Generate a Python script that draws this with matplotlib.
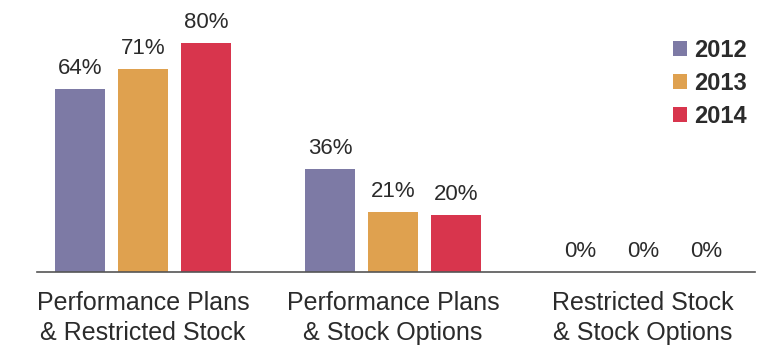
import numpy as np
import matplotlib.pyplot as plt

plt.rcParams['font.family'] = ['Liberation Sans', 'DejaVu Sans']

# --- Data ---
categories = ["Performance Plans\n& Restricted Stock",
              "Performance Plans\n& Stock Options",
              "Restricted Stock\n& Stock Options"]
years = ["2012", "2013", "2014"]
values_2012 = [64, 36, 0]
values_2013 = [71, 21, 0]
values_2014 = [80, 20, 0]
colors = ["#7d7aa5", "#dfa14f", "#d8354d"]

series = [values_2012, values_2013, values_2014]

# --- Figure ---
fig = plt.figure(figsize=(7.63, 3.52), dpi=100)
ax = fig.add_axes([37 / 763, 80 / 352, 718 / 763, 272 / 352])

x = np.arange(len(categories))
offset = 0.252
width = 0.2

for i, (vals, year, col) in enumerate(zip(series, years, colors)):
    pos = x + (i - 1) * offset
    bars = ax.bar(pos, vals, width=width, color=col, label=year)
    for b, v in zip(bars, vals):
        ax.annotate(f"{v}%", (b.get_x() + b.get_width() / 2, v),
                    xytext=(0, 7), textcoords="offset points",
                    ha="center", va="bottom", fontsize=16, color="#2b2b2b")

ax.set_xlim(-0.424, 2.448)
ax.set_ylim(0, 95)
ax.set_xticks(x)
ax.set_xticklabels(categories, fontsize=18, color="#2b2b2b", linespacing=1.3)
ax.tick_params(axis="x", length=0, pad=14)
ax.set_yticks([])
for side in ["top", "right", "left"]:
    ax.spines[side].set_visible(False)
ax.spines["bottom"].set_color("#555555")
ax.spines["bottom"].set_linewidth(1.2)

leg = ax.legend(loc="upper right", bbox_to_anchor=(1.018, 0.935), frameon=False,
                handlelength=0.6, handleheight=0.6, handletextpad=0.3,
                labelspacing=0.42, prop={"weight": "bold", "size": 17})
for t in leg.get_texts():
    t.set_color("#2b2b2b")

fig.savefig("out.png", dpi=100)
